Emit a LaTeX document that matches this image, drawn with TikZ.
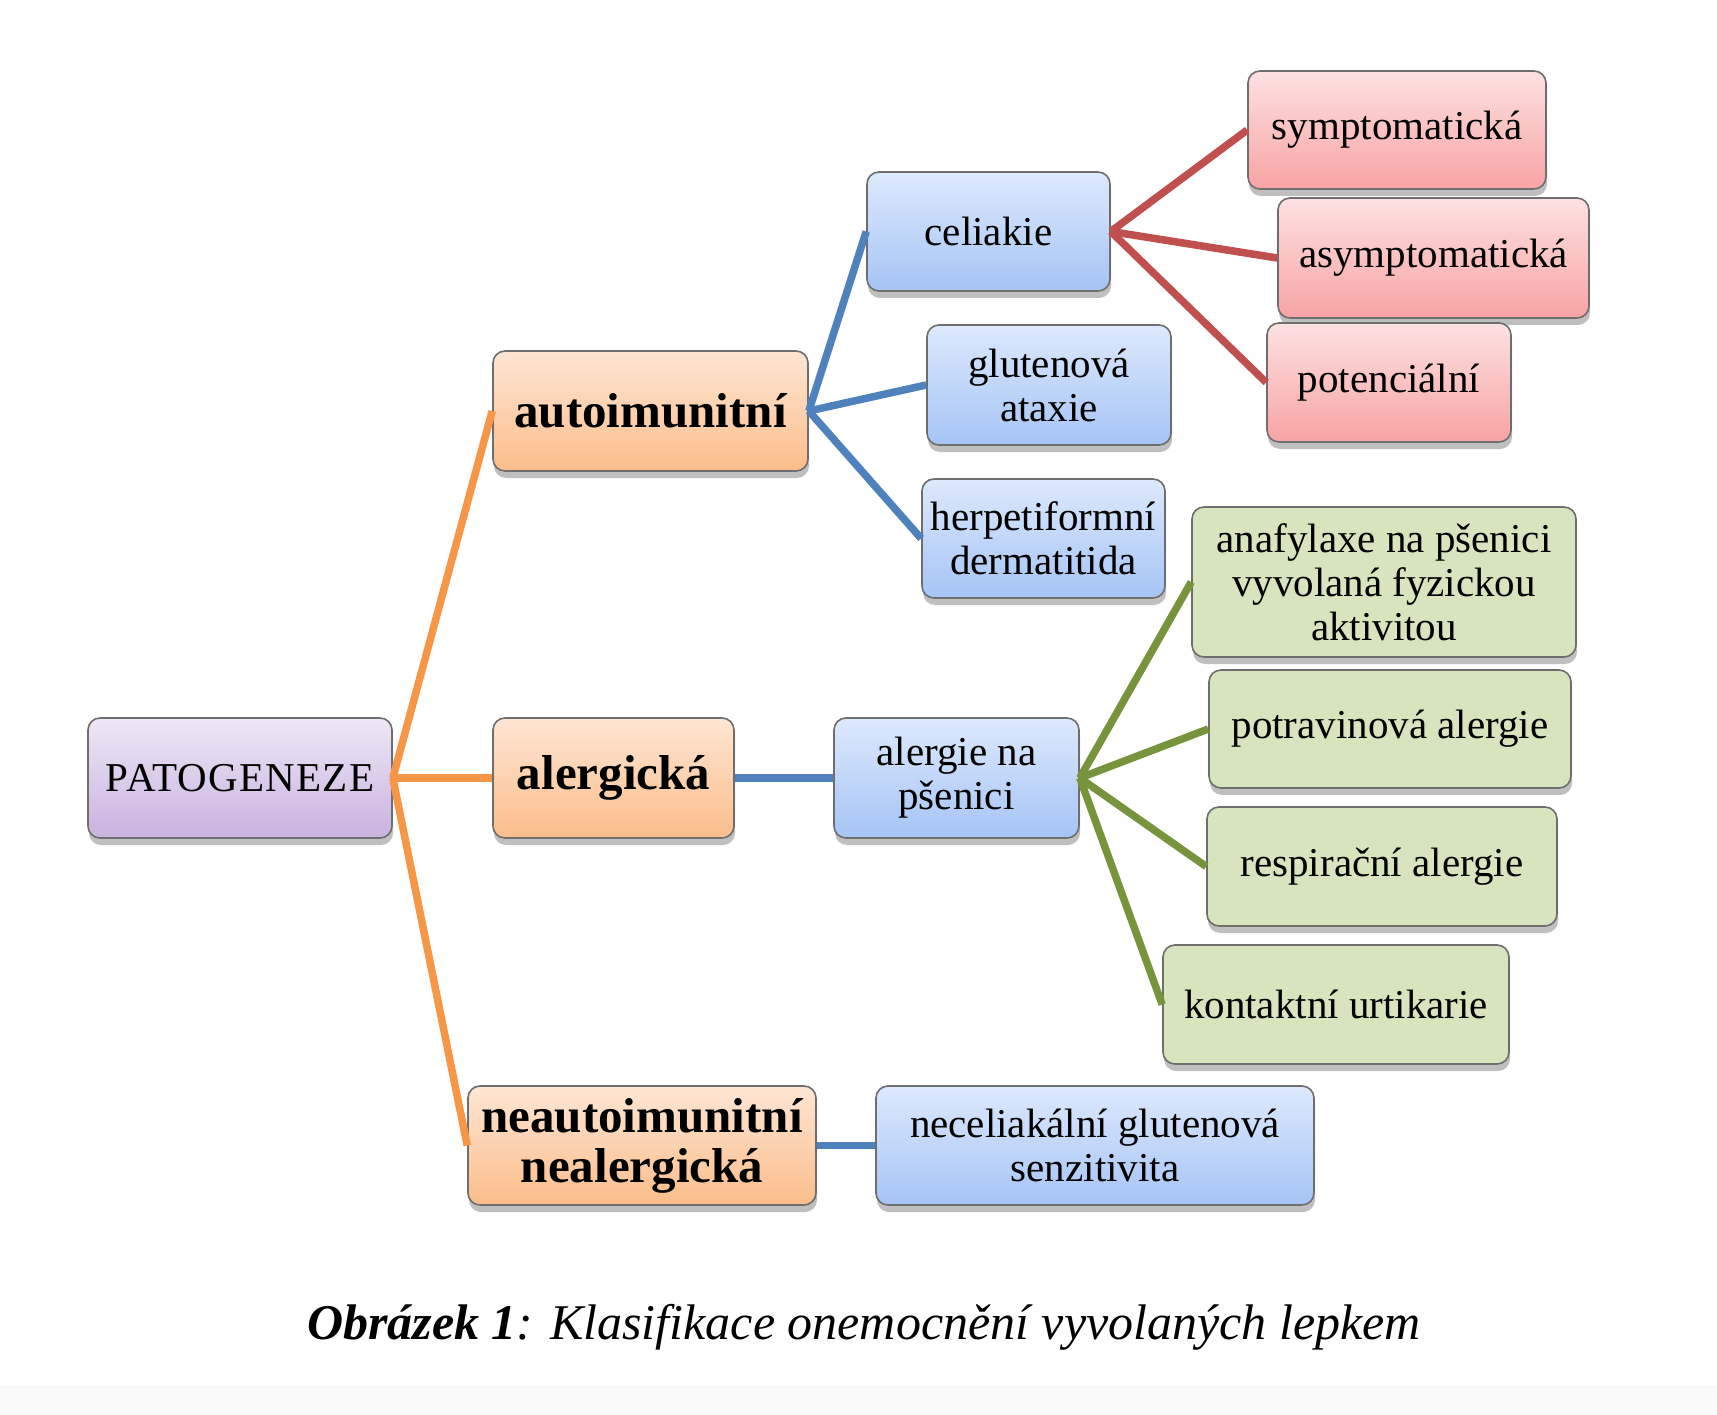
\documentclass[tikz,border=0pt]{standalone}
\usepackage{fontspec}
\setmainfont{Liberation Serif}
\usetikzlibrary{shadows}
\definecolor{purT}{HTML}{EEE7F6}\definecolor{purB}{HTML}{C8B2DF}
\definecolor{oraT}{HTML}{FEE6D4}\definecolor{oraB}{HTML}{FBBD8A}
\definecolor{bluT}{HTML}{DDE9FD}\definecolor{bluB}{HTML}{A5C4F5}
\definecolor{redT}{HTML}{FDE1E1}\definecolor{redB}{HTML}{F8A3A3}
\definecolor{grnF}{HTML}{D7E4BD}
\definecolor{bordC}{HTML}{6E6E6E}
\definecolor{lnOra}{HTML}{F79646}\definecolor{lnBlu}{HTML}{4F81BD}
\definecolor{lnRed}{HTML}{C0504D}\definecolor{lnGrn}{HTML}{77933C}
\tikzset{
  box/.style={draw=bordC, line width=1.6pt, rounded corners=12pt, align=center,
    inner sep=2pt, font=\fontsize{41}{44}\selectfont,
    drop shadow={shadow xshift=1pt, shadow yshift=-7pt, opacity=0.25, fill=black}},
  purbox/.style={box, top color=purT, bottom color=purB},
  orabox/.style={box, top color=oraT, bottom color=oraB, font=\fontsize{49}{50}\selectfont\bfseries},
  blubox/.style={box, top color=bluT, bottom color=bluB},
  redbox/.style={box, top color=redT, bottom color=redB},
  grnbox/.style={box, fill=grnF},
  conn/.style={line width=7.5pt},
}
\begin{document}
\begin{tikzpicture}[x=1pt,y=-1pt]
\useasboundingbox (0,0) rectangle (1717,1415);
\fill[white] (0,0) rectangle (1717,1415);
\fill[black!2] (0,1385) rectangle (1717,1415);
% level 0
\node[purbox, minimum width=304pt, minimum height=120pt] (pat) at (240,778) {\addfontfeatures{LetterSpace=3}PATOGENEZE};
% level 1
\node[orabox, minimum width=315pt, minimum height=120pt] (auto) at (650.5,411) {autoimunitní};
\node[orabox, minimum width=241pt, minimum height=120pt] (alerg) at (613.5,778) {alergická};
\node[orabox, minimum width=348pt, minimum height=119pt] (neaut) at (642,1145.5) {neautoimunitní\\nealergická};
% level 2
\node[blubox, minimum width=243pt, minimum height=119pt] (celiak) at (988.5,231.5) {celiakie};
\node[blubox, minimum width=244pt, minimum height=120pt] (glut) at (1049,385) {glutenová\\ataxie};
\node[blubox, minimum width=243pt, minimum height=119pt] (herp) at (1043.5,538.5) {herpetiformní\\dermatitida};
\node[blubox, minimum width=245pt, minimum height=120pt] (alpsen) at (956.5,778) {alergie na\\pšenici};
\node[blubox, minimum width=438pt, minimum height=119pt] (necel) at (1095,1145.5) {neceliakální glutenová\\senzitivita};
% level 3 red
\node[redbox, minimum width=298pt, minimum height=118pt] (sym) at (1397,130) {symptomatická};
\node[redbox, minimum width=311pt, minimum height=120pt] (asym) at (1433.5,258) {asymptomatická};
\node[redbox, minimum width=244pt, minimum height=119pt] (pot) at (1389,382.5) {potenciální};
% level 3 green
\node[grnbox, minimum width=384pt, minimum height=150pt] (anaf) at (1384,582) {anafylaxe na pšenici\\vyvolaná fyzickou\\aktivitou};
\node[grnbox, minimum width=362pt, minimum height=118pt] (potr) at (1390,729) {potravinová alergie};
\node[grnbox, minimum width=350pt, minimum height=119pt] (resp) at (1382,866.5) {respirační alergie};
\node[grnbox, minimum width=346pt, minimum height=119pt] (kont) at (1336,1004.5) {kontaktní urtikarie};
% connectors
\draw[conn, lnOra] (pat.east) -- (auto.west);
\draw[conn, lnOra] (pat.east) -- (alerg.west);
\draw[conn, lnOra] (pat.east) -- (neaut.west);
\draw[conn, lnBlu] (auto.east) -- (celiak.west);
\draw[conn, lnBlu] (auto.east) -- (glut.west);
\draw[conn, lnBlu] (auto.east) -- (herp.west);
\draw[conn, lnBlu] (alerg.east) -- (alpsen.west);
\draw[conn, lnBlu] (neaut.east) -- (necel.west);
\draw[conn, lnRed] (celiak.east) -- (sym.west);
\draw[conn, lnRed] (celiak.east) -- (asym.west);
\draw[conn, lnRed] (celiak.east) -- (pot.west);
\draw[conn, lnGrn] (alpsen.east) -- (anaf.west);
\draw[conn, lnGrn] (alpsen.east) -- (potr.west);
\draw[conn, lnGrn] (alpsen.east) -- (resp.west);
\draw[conn, lnGrn] (alpsen.east) -- (kont.west);
% caption
\node[font=\fontsize{50}{55}\selectfont] (cap) at (864,1327) {\textbf{\textit{Obrázek 1}}\textit{: Klasifikace onemocnění vyvolaných lepkem}};
\end{tikzpicture}
\end{document}
